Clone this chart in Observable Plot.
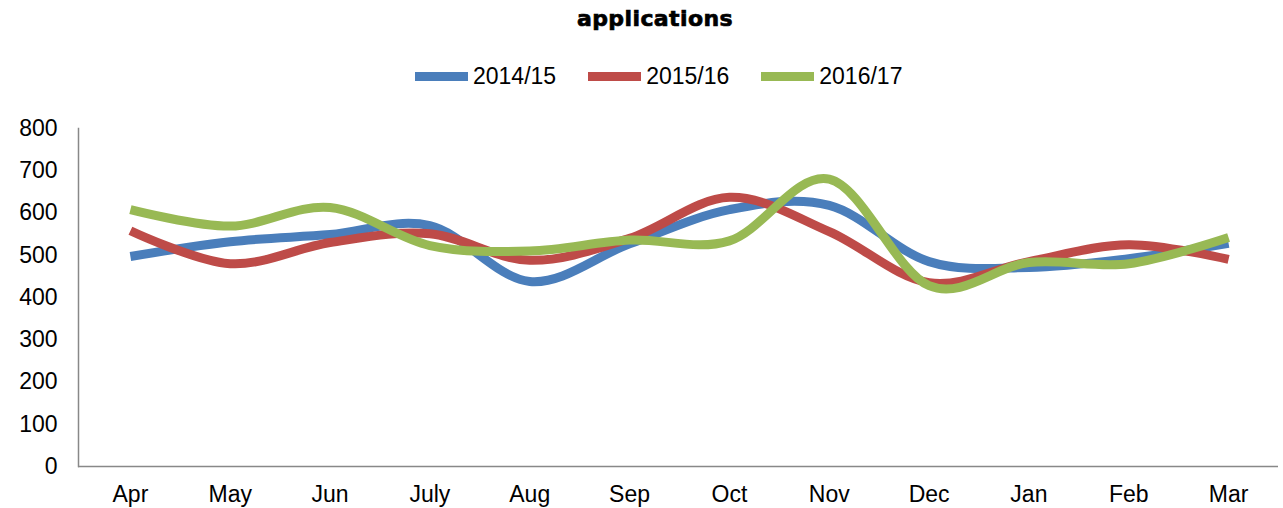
<!DOCTYPE html>
<html>
<head>
<meta charset="utf-8">
<script src="https://cdn.jsdelivr.net/npm/d3@7"></script>
<script src="https://cdn.jsdelivr.net/npm/@observablehq/plot@0.6"></script>
<style>
  html, body { margin: 0; padding: 0; background: #fff; }
  #wrap { position: relative; width: 1283px; height: 508px; font-family: "Liberation Sans", Arial, sans-serif; }
  #title { position: absolute; left: 0; top: 6px; width: 1310px; text-align: center; font-family: "DejaVu Sans", sans-serif; font-weight: bold; font-size: 22px; letter-spacing: 0.4px; -webkit-text-stroke: 0.7px #000; color: #000; }
  #legend { position: absolute; left: 415px; top: 63px; display: flex; align-items: center; font-size: 23px; color: #000; }
  .item { display: flex; align-items: center; margin-right: 32px; }
  .sw { width: 53px; height: 9px; margin-right: 5px; }
  #chart { position: absolute; left: 0; top: 100px; }
</style>
</head>
<body>
<div id="wrap">
  <div id="title">applications</div>
  <div id="legend"></div>
  <div id="chart"></div>
</div>
<script>
const months = ["Apr","May","Jun","July","Aug","Sep","Oct","Nov","Dec","Jan","Feb","Mar"];
const seriesNames = ["2014/15","2015/16","2016/17"];
const v2014_15 = [497,532,549,570,438,527,608,618,485,471,492,528];
const v2015_16 = [558,480,530,551,488,540,637,556,435,485,525,490];
const v2016_17 = [608,569,613,523,510,536,534,680,428,483,480,542];
const seriesColors = ["#4a7ebb","#be4b48","#98b954"];
const yTicks = [0,100,200,300,400,500,600,700,800];

const allValues = [v2014_15, v2015_16, v2016_17];
const data = [];
seriesNames.forEach((s, i) => months.forEach((m, j) => data.push({series: s, month: m, value: allValues[i][j]})));

const legend = document.getElementById("legend");
seriesNames.forEach((s, i) => {
  const it = document.createElement("div");
  it.className = "item";
  const sw = document.createElement("div");
  sw.className = "sw";
  sw.style.background = seriesColors[i];
  const t = document.createElement("span");
  t.textContent = s;
  it.appendChild(sw); it.appendChild(t);
  legend.appendChild(it);
});

const chart = Plot.plot({
  width: 1283,
  height: 408,
  marginLeft: 78,
  marginRight: 5,
  marginTop: 28,
  marginBottom: 42,
  style: {fontFamily: "'Liberation Sans', Arial, sans-serif", fontSize: "23px", color: "#000", background: "#fff"},
  x: {type: "point", domain: months, padding: 0.5, round: false, insetLeft: 2, label: null},
  y: {domain: [0, 800], label: null},
  color: {domain: seriesNames, range: seriesColors},
  marks: [
    Plot.axisY({ticks: yTicks, tickSize: 0, tickPadding: 21, label: null}),
    Plot.axisX({tickSize: 0, tickPadding: 19, label: null}),
    Plot.frame({anchor: "left", stroke: "#888", strokeWidth: 1.5}),
    Plot.ruleY([0], {stroke: "#888", strokeWidth: 1.5}),
    Plot.lineY(data, {x: "month", y: "value", z: "series", stroke: "series", strokeWidth: 9, curve: "cardinal", strokeLinecap: "butt", strokeLinejoin: "round"})
  ]
});
document.getElementById("chart").appendChild(chart);
</script>
</body>
</html>
